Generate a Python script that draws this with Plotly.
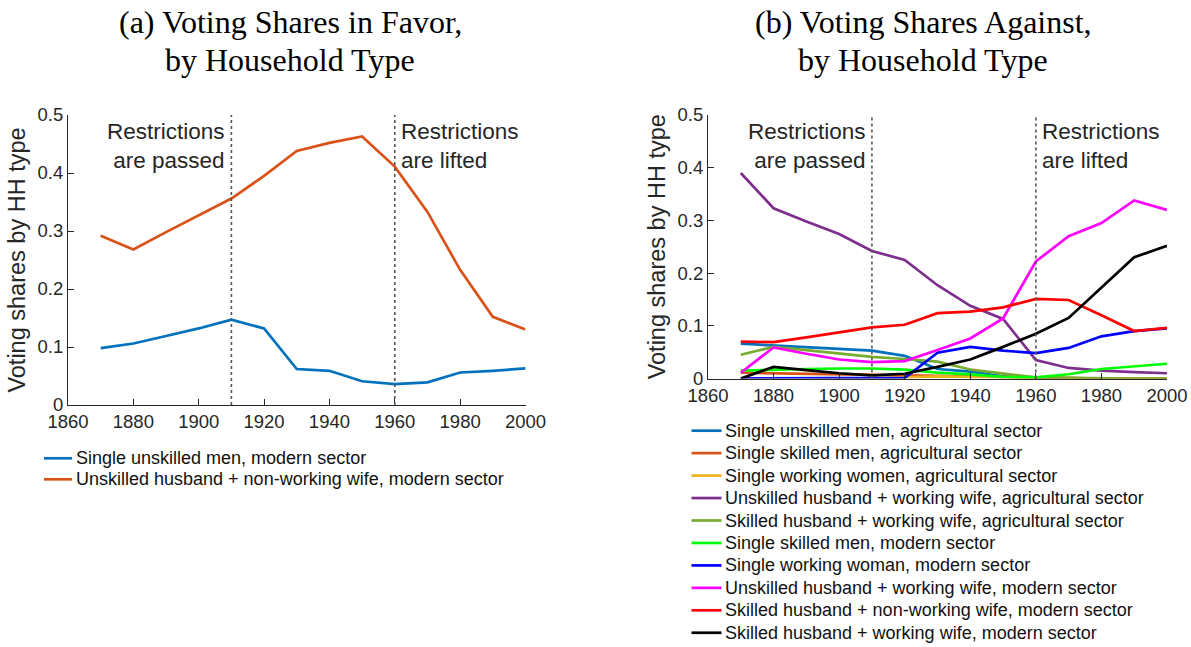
import plotly.graph_objects as go

W, H = 1191, 647

years = [1870, 1880, 1890, 1900, 1910, 1920, 1930, 1940, 1950, 1960, 1970, 1980, 1990, 2000]

# Panel (a): voting shares in favor
favor_names = ["Single unskilled men, modern sector",
               "Unskilled husband + non-working wife, modern sector"]
favor_single_unskilled_modern = [0.098, 0.106, 0.119, 0.132, 0.147, 0.132, 0.062, 0.059, 0.041, 0.036, 0.039, 0.056, 0.059, 0.063]
favor_unskilled_nonworking_modern = [0.292, 0.268, 0.298, 0.327, 0.356, 0.395, 0.438, 0.452, 0.463, 0.411, 0.333, 0.233, 0.152, 0.130]
favor_colors = ["#0072BD", "#D95319"]

# Panel (b): voting shares against
against_names = [
    "Single unskilled men, agricultural sector",
    "Single skilled men, agricultural sector",
    "Single working women, agricultural sector",
    "Unskilled husband + working wife, agricultural sector",
    "Skilled husband + working wife, agricultural sector",
    "Single skilled men, modern sector",
    "Single working woman, modern sector",
    "Unskilled husband + working wife, modern sector",
    "Skilled husband + non-working wife, modern sector",
    "Skilled husband + working wife, modern sector",
]
against_values = [
    [0.066, 0.063, 0.060, 0.057, 0.053, 0.043, 0.018, 0.013, 0.004, 0.001, 0.000, 0.000, 0.000, 0.000],
    [0.011, 0.010, 0.009, 0.008, 0.007, 0.005, 0.004, 0.003, 0.002, 0.001, 0.000, 0.000, 0.000, 0.000],
    [0.000, 0.000, 0.000, 0.000, 0.000, 0.002, 0.004, 0.003, 0.002, 0.001, 0.000, 0.000, 0.000, 0.000],
    [0.390, 0.323, 0.298, 0.274, 0.242, 0.225, 0.177, 0.138, 0.113, 0.035, 0.020, 0.015, 0.012, 0.010],
    [0.045, 0.060, 0.054, 0.048, 0.041, 0.037, 0.032, 0.017, 0.009, 0.002, 0.001, 0.000, 0.000, 0.000],
    [0.015, 0.017, 0.018, 0.019, 0.019, 0.017, 0.011, 0.008, 0.003, 0.002, 0.008, 0.018, 0.023, 0.028],
    [0.000, 0.000, 0.000, 0.000, 0.000, 0.001, 0.049, 0.060, 0.053, 0.048, 0.058, 0.080, 0.090, 0.095],
    [0.011, 0.059, 0.047, 0.036, 0.031, 0.033, 0.054, 0.076, 0.114, 0.222, 0.270, 0.295, 0.338, 0.320],
    [0.070, 0.069, 0.078, 0.088, 0.097, 0.102, 0.124, 0.127, 0.135, 0.151, 0.149, 0.120, 0.090, 0.096],
    [0.000, 0.022, 0.016, 0.010, 0.006, 0.009, 0.022, 0.036, 0.060, 0.085, 0.115, 0.172, 0.230, 0.252],
]
against_colors = ["#0072BD", "#D95319", "#EDB120", "#7E2F8E", "#77AC30",
                  "#00FF00", "#0000FF", "#FF00FF", "#FF0000", "#000000"]

event_years = [1910, 1960]
event_labels = ["Restrictions<br>are passed", "Restrictions<br>are lifted"]

titles_line1 = ["(a) Voting Shares in Favor,", "(b) Voting Shares Against,"]
titles_line2 = ["by Household Type", "by Household Type"]

x_ticks = [1860, 1880, 1900, 1920, 1940, 1960, 1980, 2000]
y_ticks = [0, 0.1, 0.2, 0.3, 0.4, 0.5]
y_ticktext = ["0", "0.1", "0.2", "0.3", "0.4", "0.5"]


def px_x(p):
    return p / W


def px_y(p):
    return 1 - p / H


fig = go.Figure()
LW = 2.7
SANS = "Liberation Sans, Arial, sans-serif"

for name, vals, col in zip(favor_names, [favor_single_unskilled_modern, favor_unskilled_nonworking_modern], favor_colors):
    fig.add_trace(go.Scatter(x=years, y=vals, mode="lines", name=name,
                             line=dict(color=col, width=LW),
                             xaxis="x", yaxis="y", showlegend=False))

for name, vals, col in zip(against_names, against_values, against_colors):
    fig.add_trace(go.Scatter(x=years, y=vals, mode="lines", name=name,
                             line=dict(color=col, width=LW),
                             xaxis="x2", yaxis="y2", showlegend=False))

axis_col = "#262626"
tickfont = dict(family=SANS, size=18.5, color=axis_col)
common_x = dict(range=[1860, 2000], tickvals=x_ticks, ticks="inside", ticklen=6,
                tickcolor=axis_col, showline=True, linecolor=axis_col, linewidth=1,
                showgrid=False, zeroline=False, tickfont=tickfont, automargin=False)
common_y = dict(range=[0, 0.5], tickvals=y_ticks, ticktext=y_ticktext, ticks="inside", ticklen=6,
                tickcolor=axis_col, showline=True, linecolor=axis_col, linewidth=1,
                showgrid=False, zeroline=False, tickfont=tickfont, automargin=False,
                title=dict(text="Voting shares by HH type",
                           font=dict(family=SANS, size=23.5, color=axis_col),
                           standoff=5))

fig.update_layout(
    width=W, height=H, margin=dict(l=0, r=0, t=0, b=0, autoexpand=False),
    paper_bgcolor="white", plot_bgcolor="white",
    xaxis=dict(domain=[px_x(68), px_x(525.5)], anchor="y", **common_x),
    yaxis=dict(domain=[px_y(405), px_y(115)], anchor="x", **common_y),
    xaxis2=dict(domain=[px_x(708), px_x(1167)], anchor="y2", **common_x),
    yaxis2=dict(domain=[px_y(378.5), px_y(115)], anchor="x2", **common_y),
    showlegend=False,
)

shapes = []
annotations = []
for xa, ya in [("x", "y"), ("x2", "y2")]:
    for yr in event_years:
        shapes.append(dict(type="line", xref=xa, yref=ya, x0=yr, x1=yr, y0=0, y1=0.5,
                           line=dict(color="#555555", width=1.6, dash="dot")))
    annotations.append(dict(xref=xa, yref=ya, x=event_years[0], y=0.5, xanchor="right", yanchor="top",
                            xshift=-4, yshift=-2, text=event_labels[0], showarrow=False, align="right",
                            font=dict(family=SANS, size=22.5, color=axis_col)))
    annotations.append(dict(xref=xa, yref=ya, x=event_years[1], y=0.5, xanchor="left", yanchor="top",
                            xshift=4, yshift=-2, text=event_labels[1], showarrow=False, align="left",
                            font=dict(family=SANS, size=22.5, color=axis_col)))

title_font = dict(family="Liberation Serif, Times New Roman, serif", size=32, color="#000000")
for cx, l1, l2 in zip([290, 923], titles_line1, titles_line2):
    annotations.append(dict(xref="paper", yref="paper", x=px_x(cx), y=px_y(22), xanchor="center",
                            yanchor="middle", text=l1, showarrow=False, font=title_font))
    annotations.append(dict(xref="paper", yref="paper", x=px_x(cx), y=px_y(60), xanchor="center",
                            yanchor="middle", text=l2, showarrow=False, font=title_font))

# Custom legends (key line + label), entries taken from the series lists
legend_font = dict(family=SANS, size=18, color="#111111")


def add_legend(names, colors, x_line0, x_line1, x_text, y_first, step):
    for i, (nm, col) in enumerate(zip(names, colors)):
        yc = y_first + i * step
        shapes.append(dict(type="line", xref="paper", yref="paper",
                           x0=px_x(x_line0), x1=px_x(x_line1), y0=px_y(yc), y1=px_y(yc),
                           line=dict(color=col, width=LW)))
        annotations.append(dict(xref="paper", yref="paper", x=px_x(x_text), y=px_y(yc),
                                xanchor="left", yanchor="middle", text=nm, showarrow=False,
                                font=legend_font))


add_legend(favor_names, favor_colors, 44, 72, 74, 458.3, 21.0)
add_legend(against_names, against_colors, 691.5, 721.5, 723, 430.7, 22.45)

fig.update_layout(shapes=shapes, annotations=annotations)
fig.write_html("out.html", config={"displayModeBar": False},
               post_script="document.body.style.margin='0px';")
